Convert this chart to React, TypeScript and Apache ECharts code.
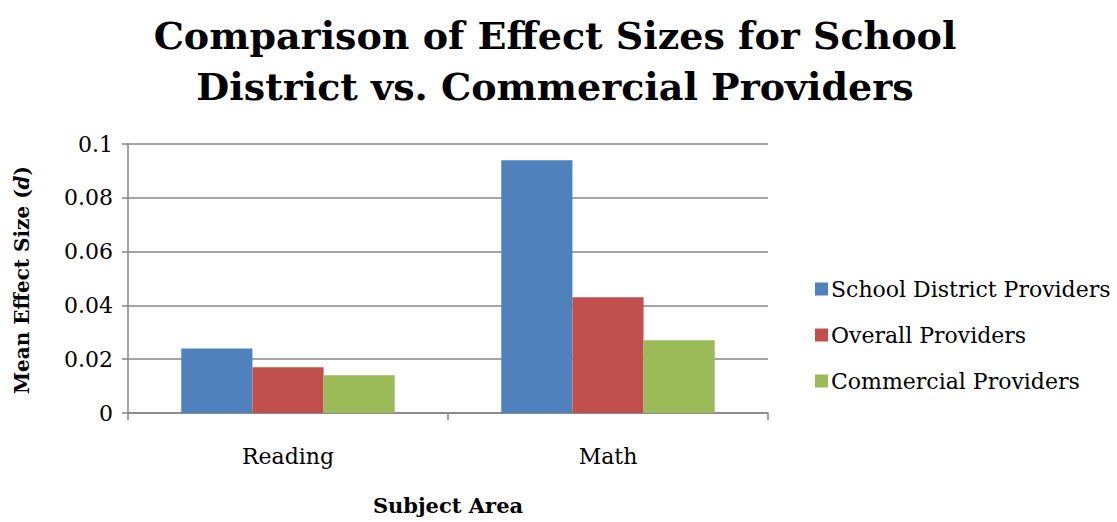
import React, { useEffect, useRef } from "react";
import * as echarts from "echarts";

const categories = ["Reading", "Math"];
const schoolDistrict = [0.024, 0.094];
const overall = [0.017, 0.043];
const commercial = [0.014, 0.027];
const seriesNames = ["School District Providers", "Overall Providers", "Commercial Providers"];
const colors = ["#4F81BD", "#C0504D", "#9BBB59"];
const titleLines = ["Comparison of Effect Sizes for School", "District vs. Commercial Providers"];

const FONT = "'DejaVu Serif', serif";

export default function App() {
  const ref = useRef<HTMLDivElement>(null);
  useEffect(() => {
    document.body.style.margin = "0";
    const chart = echarts.init(ref.current!, undefined, { renderer: "svg" });
    const axisGray = "#868686";
    chart.setOption({
      animation: false,
      backgroundColor: "#ffffff",
      textStyle: { fontFamily: FONT },
      grid: { left: 128, right: 349, top: 144, bottom: 109, containLabel: false },
      graphic: [
        {
          type: "text",
          x: 555,
          y: 35,
          style: {
            text: titleLines[0],
            font: `bold 38px ${FONT}`,
            fill: "#000",
            textAlign: "center",
            textVerticalAlign: "middle",
          },
        },
        {
          type: "text",
          x: 555,
          y: 86,
          style: {
            text: titleLines[1],
            font: `bold 38px ${FONT}`,
            fill: "#000",
            textAlign: "center",
            textVerticalAlign: "middle",
          },
        },
        {
          type: "text",
          x: 22,
          y: 280,
          rotation: Math.PI / 2,
          style: {
            rich: {
              b: { font: `bold 20px ${FONT}`, fill: "#000" },
              i: { font: `italic bold 20px ${FONT}`, fill: "#000" },
            },
            text: "{b|Mean Effect Size (}{i|d}{b|)}",
            textAlign: "center",
            textVerticalAlign: "middle",
          },
        },
      ],
      legend: {
        orient: "vertical",
        left: 810,
        top: 273,
        itemWidth: 13,
        itemHeight: 13,
        itemGap: 24,
        icon: "rect",
        data: seriesNames,
        textStyle: { fontFamily: FONT, fontSize: 22, lineHeight: 22, color: "#000", padding: [0, 0, 0, -2] },
      },
      xAxis: {
        type: "category",
        data: categories,
        name: "Subject Area",
        nameLocation: "middle",
        nameGap: 82,
        nameTextStyle: { fontFamily: FONT, fontSize: 21, fontWeight: "bold", color: "#000" },
        axisLine: { lineStyle: { color: axisGray, width: 1.5 } },
        axisTick: { show: true, length: 7, lineStyle: { color: axisGray, width: 1.5 } },
        axisLabel: { fontFamily: FONT, fontSize: 22, color: "#000", margin: 32 },
      },
      yAxis: {
        type: "value",
        min: 0,
        max: 0.1,
        interval: 0.02,
        axisLine: { show: true, lineStyle: { color: axisGray, width: 1.5 } },
        axisTick: { show: true, length: 6, lineStyle: { color: axisGray, width: 1.5 } },
        splitLine: { lineStyle: { color: axisGray, width: 1.5 } },
        axisLabel: {
          fontFamily: FONT,
          fontSize: 22,
          color: "#000",
          margin: 15,
          formatter: (v: number) => (v === 0 ? "0" : String(parseFloat(v.toFixed(2)))),
        },
      },
      series: [
        { name: seriesNames[0], type: "bar", data: schoolDistrict, itemStyle: { color: colors[0] }, barGap: "0%", barCategoryGap: "33.3%" },
        { name: seriesNames[1], type: "bar", data: overall, itemStyle: { color: colors[1] }, barGap: "0%", barCategoryGap: "33.3%" },
        { name: seriesNames[2], type: "bar", data: commercial, itemStyle: { color: colors[2] }, barGap: "0%", barCategoryGap: "33.3%" },
      ],
    });
    return () => chart.dispose();
  }, []);
  return <div ref={ref} style={{ width: 1117, height: 522 }} />;
}
